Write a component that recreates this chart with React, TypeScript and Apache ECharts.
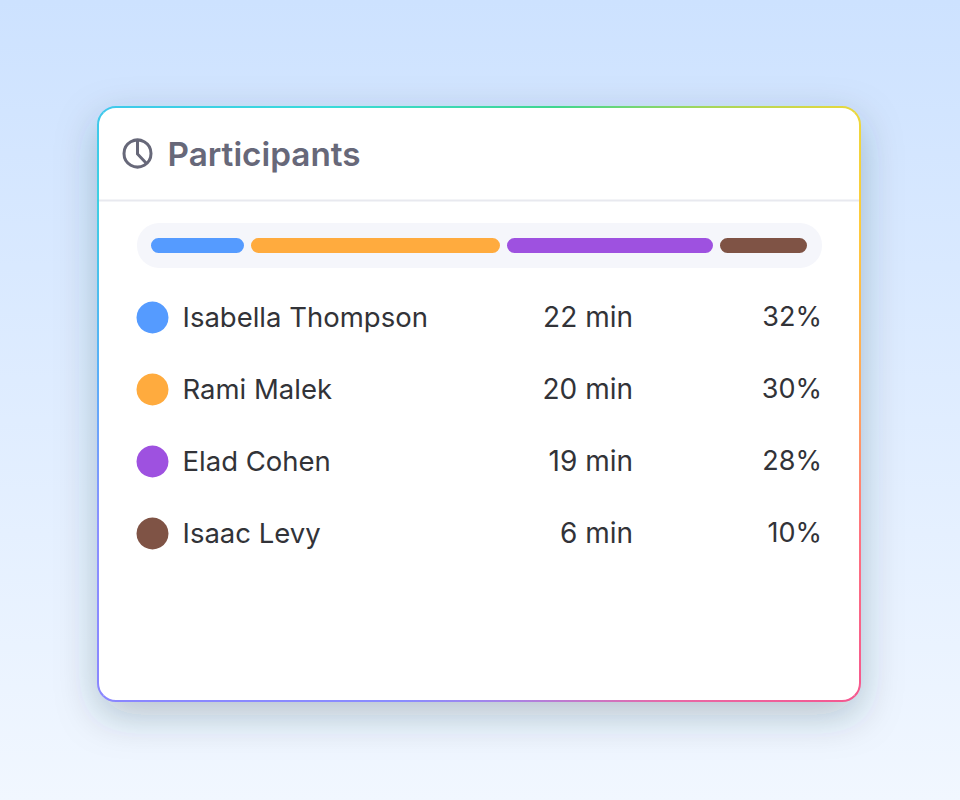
import React, { useEffect, useRef } from 'react'
import * as echarts from 'echarts'

// 参与者数据
const names = ['Isabella Thompson', 'Rami Malek', 'Elad Cohen', 'Isaac Levy']
const minutes = ['22 min', '20 min', '19 min', '6 min']
const percents = ['32%', '30%', '28%', '10%']
const colors = ['#559BFF', '#FFAB3E', '#9E51E0', '#7F5345']
// 条形各段的长度，按图上量得
const barLengths = [93, 249, 206, 87]
const barGap = 7

const FONT = 'Inter, "Noto Sans", sans-serif'

// 卡片位置
const CARD = { x: 98, y: 107, w: 762, h: 594, r: 18 }

const { x: L, y: T, w: W, h: H, r: R } = CARD
const RR = L + W
const B = T + H
const K = R * 0.2929 // 圆角 45 度点的偏移
const C = R * 0.45

const topEdge = `M${L + K} ${T + K}C${L + K + 3} ${T + K - 3} ${L + R - C + 2} ${T} ${L + R} ${T}L${RR - R} ${T}C${RR - R + C - 2} ${T} ${RR - K - 3} ${T + K - 3} ${RR - K} ${T + K}`
const rightEdge = `M${RR - K} ${T + K}C${RR - K + 3} ${T + K + 3} ${RR} ${T + R - C + 2} ${RR} ${T + R}L${RR} ${B - R}C${RR} ${B - R + C - 2} ${RR - K + 3} ${B - K - 3} ${RR - K} ${B - K}`
const bottomEdge = `M${RR - K} ${B - K}C${RR - K - 3} ${B - K + 3} ${RR - R + C - 2} ${B} ${RR - R} ${B}L${L + R} ${B}C${L + R - C + 2} ${B} ${L + K + 3} ${B - K + 3} ${L + K} ${B - K}`
const leftEdge = `M${L + K} ${B - K}C${L + K - 3} ${B - K - 3} ${L} ${B - R + C - 2} ${L} ${B - R}L${L} ${T + R}C${L} ${T + R - C + 2} ${L + K - 3} ${T + K + 3} ${L + K} ${T + K}`

echarts.graphic.registerShape('edgeTop', echarts.graphic.extendPath(topEdge, {}) as any)
echarts.graphic.registerShape('edgeRight', echarts.graphic.extendPath(rightEdge, {}) as any)
echarts.graphic.registerShape('edgeBottom', echarts.graphic.extendPath(bottomEdge, {}) as any)
echarts.graphic.registerShape('edgeLeft', echarts.graphic.extendPath(leftEdge, {}) as any)

function edgeGradient(x: number, y: number, x2: number, y2: number, stops: [number, string][]) {
  return {
    type: 'linear', x, y, x2, y2, global: true,
    colorStops: stops.map(([offset, color]) => ({ offset, color })),
  }
}

function buildOption() {
  // 条形：每段之间夹一段透明间隔
  const barSeries: any[] = []
  barLengths.forEach((len, i) => {
    barSeries.push({
      type: 'bar',
      stack: 'share',
      xAxisIndex: 0,
      yAxisIndex: 0,
      barWidth: 15,
      data: [len],
      itemStyle: { color: colors[i], borderRadius: 7.5 },
      silent: true,
    })
    if (i < barLengths.length - 1) {
      barSeries.push({
        type: 'bar',
        stack: 'share',
        xAxisIndex: 0,
        yAxisIndex: 0,
        barWidth: 15,
        data: [barGap],
        itemStyle: { color: 'transparent' },
        silent: true,
      })
    }
  })
  const barTotal = barLengths.reduce((a, b) => a + b, 0) + barGap * (barLengths.length - 1)

  // 文字比圆点略高一点
  const rowText = { fontFamily: FONT, color: '#323338', opacity: 1, offset: [0, -1] }

  return {
    animation: false,
    graphic: {
      elements: [
        {
          type: 'rect', z: -10, silent: true,
          shape: { x: 0, y: 0, width: 960, height: 800 },
          style: {
            fill: {
              type: 'linear', x: 0, y: 0, x2: 0, y2: 1,
              colorStops: [
                { offset: 0, color: '#CDE2FF' },
                { offset: 1, color: '#F1F7FF' },
              ],
            },
          },
        },
        {
          type: 'rect', z: -9, silent: true,
          shape: { x: L, y: T, width: W, height: H, r: R },
          style: {
            fill: '#FFFFFF',
            shadowBlur: 40,
            shadowOffsetY: 14,
            shadowColor: 'rgba(40,55,70,0.27)',
          },
        },
        {
          type: 'edgeTop', z: -8, silent: true,
          style: {
            fill: 'none', lineWidth: 2,
            stroke: edgeGradient(L, 0, RR, 0, [[0, '#3FC8EC'], [0.3, '#38DBDB'], [0.6, '#3FD68F'], [0.8, '#A5D65A'], [1, '#EBD83C']]),
          },
        },
        {
          type: 'edgeRight', z: -8, silent: true,
          style: {
            fill: 'none', lineWidth: 2,
            stroke: edgeGradient(0, T, 0, B, [[0, '#EBD83C'], [0.2, '#FFCB3C'], [0.5, '#FFA45E'], [0.72, '#FF7280'], [1, '#F5578F']]),
          },
        },
        {
          type: 'edgeBottom', z: -8, silent: true,
          style: {
            fill: 'none', lineWidth: 2,
            stroke: edgeGradient(RR, 0, L, 0, [[0, '#F5578F'], [0.25, '#E868A6'], [0.47, '#A684E8'], [0.6, '#8A8CFF'], [1, '#8A86FF']]),
          },
        },
        {
          type: 'edgeLeft', z: -8, silent: true,
          style: {
            fill: 'none', lineWidth: 2,
            stroke: edgeGradient(0, B, 0, T, [[0, '#8A86FF'], [0.3, '#8A90FF'], [0.55, '#5AAEF8'], [0.85, '#3ED0E2'], [1, '#3FC8EC']]),
          },
        },
        {
          type: 'line', z: -7, silent: true,
          shape: { x1: L + 1, y1: 200.5, x2: RR - 1, y2: 200.5 },
          style: { stroke: '#E8E9EF', lineWidth: 2 },
        },
        // 标题图标
        {
          type: 'circle', z: -7, silent: true,
          shape: { cx: 137.5, cy: 153.5, r: 13.5 },
          style: { fill: 'none', stroke: '#676879', lineWidth: 3 },
        },
        {
          type: 'polyline', z: -7, silent: true,
          shape: { points: [[137.5, 140], [137.5, 154], [147, 164]] },
          style: { fill: 'none', stroke: '#676879', lineWidth: 3 },
        },
        {
          type: 'text', z: 5, silent: true,
          x: 167.5, y: 154,
          style: {
            text: 'Participants',
            fontFamily: FONT,
            fontSize: 33.3,
            fontWeight: 600,
            fill: '#676879',
            verticalAlign: 'middle',
          },
        },
        // 条形底槽
        {
          type: 'rect', z: -7, silent: true,
          shape: { x: 137, y: 223, width: 685, height: 45, r: 22 },
          style: { fill: '#F5F6FB' },
        },
      ],
    },
    grid: [
      { left: 151, top: 223, width: barTotal, height: 45 },
      { left: 137, top: 281.5, width: 685, height: 288 },
    ],
    xAxis: [
      { type: 'value', gridIndex: 0, min: 0, max: barTotal, show: false },
      { type: 'value', gridIndex: 1, min: 0, max: 685, show: false },
    ],
    yAxis: [
      { type: 'category', gridIndex: 0, data: ['share'], show: false },
      { type: 'category', gridIndex: 1, data: names, inverse: true, show: false },
    ],
    series: [
      ...barSeries,
      {
        type: 'scatter',
        xAxisIndex: 1,
        yAxisIndex: 1,
        symbolSize: 32,
        silent: true,
        data: names.map((name, i) => ({
          value: [15.5, name],
          itemStyle: { color: colors[i], opacity: 1 },
          label: {
            show: true,
            position: 'right',
            distance: 14,
            formatter: name,
            fontSize: 27.5,
            ...rowText,
          },
        })),
      },
      {
        type: 'scatter',
        xAxisIndex: 1,
        yAxisIndex: 1,
        symbolSize: 0,
        silent: true,
        data: names.map((name, i) => ({
          value: [496, name],
          itemStyle: { opacity: 1 },
          label: { show: true, position: 'left', distance: 0, formatter: minutes[i], fontSize: 28, ...rowText },
        })),
      },
      {
        type: 'scatter',
        xAxisIndex: 1,
        yAxisIndex: 1,
        symbolSize: 0,
        silent: true,
        data: names.map((name, i) => ({
          value: [685, name],
          itemStyle: { opacity: 1 },
          label: { show: true, position: 'left', distance: 0, formatter: percents[i], fontSize: 27, ...rowText },
        })),
      },
    ],
  }
}

export default function App() {
  const chartRef = useRef<HTMLDivElement>(null)

  useEffect(() => {
    document.body.style.margin = '0'
    if (!chartRef.current) return
    const chart = echarts.init(chartRef.current, undefined, { renderer: 'svg' })
    chart.setOption(buildOption() as any)
    return () => {
      chart.dispose()
    }
  }, [])

  return <div ref={chartRef} style={{ width: 960, height: 800 }} />
}
